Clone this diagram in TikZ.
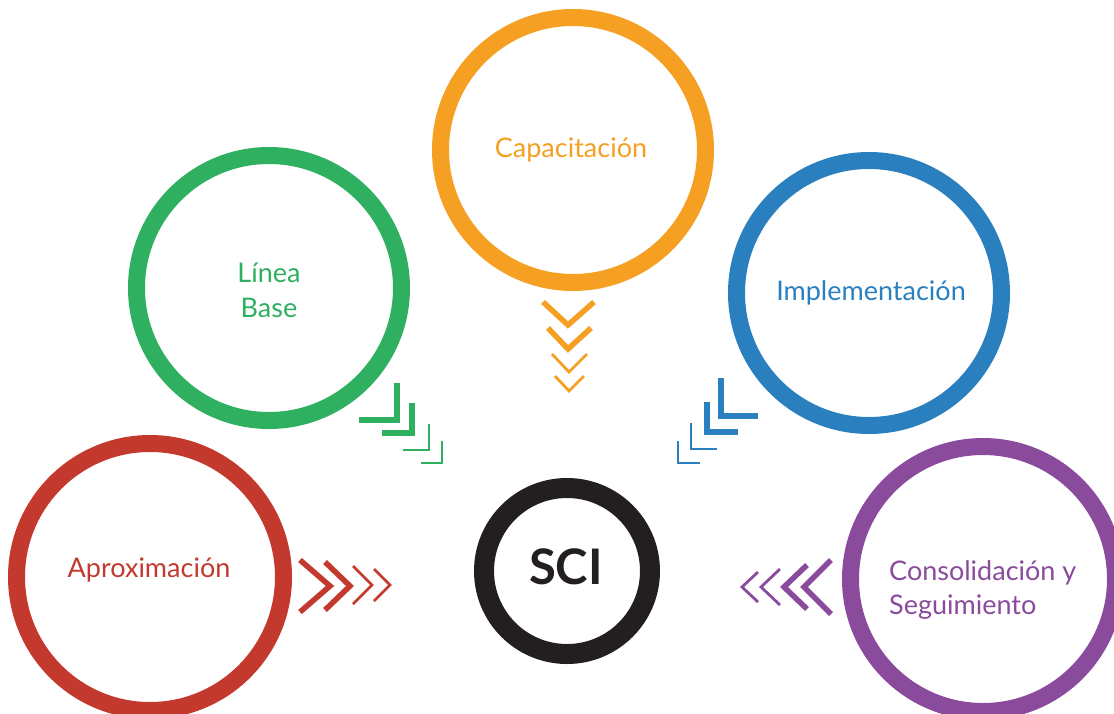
\documentclass[tikz,border=0pt]{standalone}
\usepackage{fontspec}
\setmainfont{Lato}
\definecolor{cred}{HTML}{C4392D}
\definecolor{corange}{HTML}{F5A023}
\definecolor{cgreen}{HTML}{2FB060}
\definecolor{cblue}{HTML}{2A80BE}
\definecolor{cpurple}{HTML}{8B4B9C}
\definecolor{cblack}{HTML}{231F20}
\begin{document}
\begin{tikzpicture}[x=1pt,y=-1pt,
  ring/.style={circle,draw,line width=17pt,minimum size=265pt,inner sep=0pt},
  lbl/.style={anchor=base,inner sep=0pt,font=\fontsize{27}{35}\selectfont},
  thickchev/.style={line width=5.5pt,miter limit=10},
  thinchev/.style={line width=2.8pt,miter limit=10}]
\useasboundingbox (0,0) rectangle (1114,713);
% circles
\node[ring,draw=cred,minimum size=267pt] (aprox) at (150,577) {};
\node[ring,draw=corange] (capac) at (573,150) {};
\node[ring,draw=cgreen] (linea) at (269,288) {};
\node[ring,draw=cblue] (impl) at (869,293) {};
\node[ring,draw=cpurple] (consol) at (983,579) {};
\node[circle,draw=cblack,line width=20pt,minimum size=166pt,inner sep=0pt] (sci) at (567,571) {};
% labels
\node[lbl,text=cred] (taprox) at (149,577) {Aproximación};
\node[lbl,text=corange] (tcapac) at (571,157) {Capacitación};
\node[lbl,text=cgreen] (tlinea1) at (269,282) {Línea};
\node[lbl,text=cgreen] (tlinea2) at (269,317) {Base};
\node[lbl,text=cblue] (timpl) at (871,300) {Implementación};
\node[lbl,anchor=base west,text=cpurple] (tconsol1) at (889,580) {Consolidación y};
\node[lbl,anchor=base west,text=cpurple] (tconsol2) at (889,614) {Seguimiento};
\node[anchor=base,inner sep=0pt,text=cblack,font=\fontsize{49}{50}\selectfont\bfseries] (tsci) at (566,584) {SCI};
% red chevrons (right)
\draw[cred,thickchev] (300,560) -- (330,586) -- (300,612);
\draw[cred,thickchev] (325,562) -- (350,586) -- (325,610);
\draw[cred,thinchev] (353,566) -- (372,585) -- (353,604);
\draw[cred,thinchev] (374,569) -- (390,585) -- (374,601);
% orange chevrons (down)
\draw[corange,thickchev] (543,302) -- (568,325) -- (594,302);
\draw[corange,thickchev] (548,328) -- (568,349) -- (591,328);
\draw[corange,thinchev] (552,354) -- (569,372) -- (587,354);
\draw[corange,thinchev] (555,376) -- (569,391) -- (584,376);
% green L's
\draw[cgreen,thickchev] (359,420) -- (397,420) -- (397,383);
\draw[cgreen,thickchev] (382,433) -- (412,433) -- (412,403);
\draw[cgreen,thinchev] (403,450) -- (429,450) -- (429,424);
\draw[cgreen,thinchev] (421,463) -- (442,463) -- (442,441);
% blue L's
\draw[cblue,thickchev] (721,378) -- (721,416) -- (758,416);
\draw[cblue,thickchev] (707,402) -- (707,432) -- (738,432);
\draw[cblue,thinchev] (691,423) -- (691,449) -- (717,449);
\draw[cblue,thinchev] (678,441) -- (678,463) -- (700,463);
% purple chevrons (left)
\draw[cpurple,thickchev] (831,560) -- (804,587) -- (831,614);
\draw[cpurple,thickchev] (807,565) -- (784,587) -- (807,609);
\draw[cpurple,thinchev] (780,569) -- (761,587) -- (780,605);
\draw[cpurple,thinchev] (758,572) -- (742,587) -- (758,602);
\end{tikzpicture}
\end{document}
